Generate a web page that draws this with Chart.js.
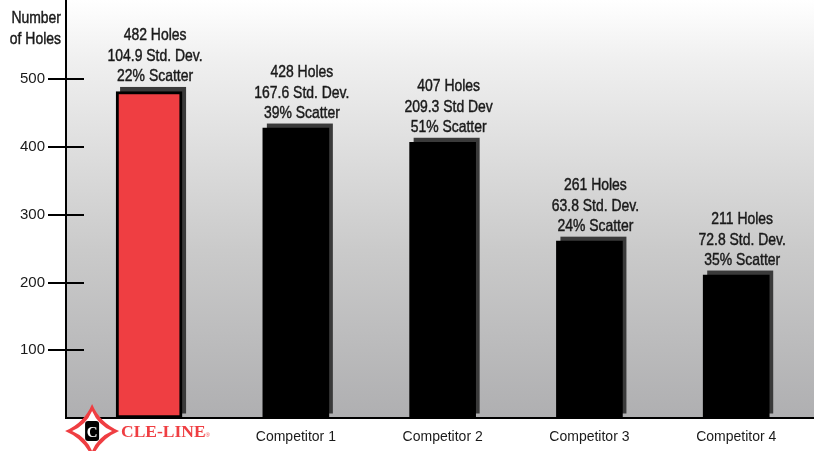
<!DOCTYPE html>
<html><head><meta charset="utf-8">
<script src="https://cdn.jsdelivr.net/npm/chart.js@4.4.1/dist/chart.umd.min.js"></script>
<style>html,body{margin:0;padding:0;background:#fff;} #wrap{width:814px;height:451px;position:relative;}</style>
</head><body><div id="wrap"><canvas id="c"></canvas></div>
<script>
const categories = ['CLE-LINE', 'Competitor 1', 'Competitor 2', 'Competitor 3', 'Competitor 4'];
const holes = [482, 428, 407, 261, 211];
const stdDevLabels = ['104.9 Std. Dev.', '167.6 Std. Dev.', '209.3 Std Dev', '63.8 Std. Dev.', '72.8 Std. Dev.'];
const scatterPct = [22, 39, 51, 24, 35];
const yTicks = [100, 200, 300, 400, 500];
const axisTitle = ['Number', 'of Holes'];

const REG = '"Liberation Sans", Arial, Helvetica, sans-serif';
const RED = '#ef3e42';
const TXT = '#1a1a1a';

function narrowText(ctx, text, x, y, align, size) {
  ctx.save();
  ctx.font = size + 'px ' + REG;
  ctx.textAlign = align;
  ctx.textBaseline = 'alphabetic';
  ctx.fillStyle = TXT;
  ctx.strokeStyle = TXT;
  ctx.lineWidth = 0.45;
  ctx.translate(x, y);
  ctx.scale(0.82, 1);
  ctx.fillText(text, 0, 0);
  ctx.strokeText(text, 0, 0);
  ctx.restore();
}

const deco = {
  id: 'deco',
  beforeDraw(chart) {
    const {ctx, chartArea: a} = chart;
    const g = ctx.createLinearGradient(0, 0, 0, a.bottom);
    g.addColorStop(0, '#ffffff');
    g.addColorStop(0.15, '#efefef');
    g.addColorStop(0.6, '#cacaca');
    g.addColorStop(1, '#afafb1');
    ctx.save();
    ctx.fillStyle = g;
    ctx.fillRect(a.left, 0, chart.width - a.left, a.bottom);
    ctx.restore();
  },
  beforeDatasetsDraw(chart) {
    const {ctx} = chart;
    const meta = chart.getDatasetMeta(0);
    ctx.save();
    ctx.fillStyle = '#3a3a3a';
    meta.data.forEach(bar => {
      const {x, y, base, width} = bar.getProps(['x', 'y', 'base', 'width'], true);
      ctx.fillRect(x - width / 2 + 4, y - 4.5, width, base - y);
    });
    ctx.restore();
  },
  afterDatasetsDraw(chart) {
    const {ctx} = chart;
    const meta = chart.getDatasetMeta(0);
    meta.data.forEach((bar, i) => {
      const lines = [holes[i] + ' Holes', stdDevLabels[i], scatterPct[i] + '% Scatter'];
      const x = bar.x + 6, yb = bar.y - 10;
      lines.forEach((t, j) => narrowText(ctx, t, x, yb - (2 - j) * 20.5, 'center', 17));
    });
  },
  afterDraw(chart) {
    const {ctx, chartArea: a, scales} = chart;
    ctx.save();
    // inner halves of y tick marks
    ctx.strokeStyle = '#000';
    ctx.lineWidth = 2;
    yTicks.forEach(v => {
      const y = Math.round(scales.y.getPixelForValue(v));
      ctx.beginPath(); ctx.moveTo(a.left, y); ctx.lineTo(a.left + 18, y); ctx.stroke();
    });
    ctx.restore();
    // axis title
    narrowText(ctx, axisTitle[0], 61, 23, 'right', 17);
    narrowText(ctx, axisTitle[1], 61, 44, 'right', 17);
    // logo
    ctx.save();
    const cx = scales.x.getPixelForValue(0) - 57, cy = 431;
    const star = (r, k) => {
      ctx.beginPath();
      ctx.moveTo(cx, cy - r);
      ctx.quadraticCurveTo(cx + k, cy - k, cx + r, cy);
      ctx.quadraticCurveTo(cx + k, cy + k, cx, cy + r);
      ctx.quadraticCurveTo(cx - k, cy + k, cx - r, cy);
      ctx.quadraticCurveTo(cx - k, cy - k, cx, cy - r);
      ctx.closePath();
    };
    star(27, 8); ctx.fillStyle = RED; ctx.fill();
    star(20, 6); ctx.fillStyle = '#fff'; ctx.fill();
    ctx.fillStyle = '#000';
    ctx.beginPath();
    if (ctx.roundRect) ctx.roundRect(cx - 7, cy - 10, 14, 20, 3); else ctx.rect(cx - 7, cy - 10, 14, 20);
    ctx.fill();
    ctx.fillStyle = '#fff';
    ctx.textAlign = 'center';
    ctx.font = 'bold 15px "Liberation Serif", "DejaVu Serif", serif';
    ctx.fillText(categories[0].charAt(0), cx, cy + 5.5);
    ctx.fillStyle = RED;
    ctx.textAlign = 'left';
    ctx.font = 'bold 17.5px "Liberation Serif", "DejaVu Serif", serif';
    ctx.fillText(categories[0], 121, 437);
    const w = ctx.measureText(categories[0]).width;
    ctx.font = '6px "Liberation Sans", sans-serif';
    ctx.fillText('\u00AE', 121 + w, 437);
    ctx.restore();
  }
};

new Chart(document.getElementById('c'), {
  type: 'bar',
  data: {
    datasets: [{
      data: holes.map((v, i) => ({x: i, y: v})),
      backgroundColor: categories.map((c, i) => i === 0 ? RED : '#000'),
      borderColor: '#000',
      borderWidth: categories.map((c, i) => i === 0 ? 3 : 0),
      borderSkipped: false,
      barThickness: 66
    }]
  },
  options: {
    responsive: true,
    maintainAspectRatio: false,
    animation: false,
    layout: {padding: 0},
    plugins: {legend: {display: false}, tooltip: {enabled: false}},
    scales: {
      x: {
        type: 'linear', min: -0.566, max: 4.53, offset: false,
        afterBuildTicks: s => { s.ticks = categories.map((c, i) => ({value: i})); },
        afterFit: s => { s.height = 33; },
        grid: {display: false, drawTicks: false, offset: false},
        border: {display: true, color: '#000', width: 2},
        ticks: {
          callback: v => v === 0 ? '' : categories[v],
          font: {family: REG, size: 14}, color: TXT, padding: 11,
          maxRotation: 0, autoSkip: false
        }
      },
      y: {
        min: 0, max: 617,
        afterBuildTicks: s => { s.ticks = yTicks.map(v => ({value: v})); },
        afterFit: s => { s.width = 66; s.paddingTop = 0; s.paddingBottom = 0; },
        grid: {drawOnChartArea: false, drawTicks: true, tickLength: 18, color: '#000', lineWidth: 2},
        border: {display: true, color: '#000', width: 2},
        ticks: {font: {family: REG, size: 15}, color: TXT, padding: 3}
      }
    }
  },
  plugins: [deco]
});
</script></body></html>
